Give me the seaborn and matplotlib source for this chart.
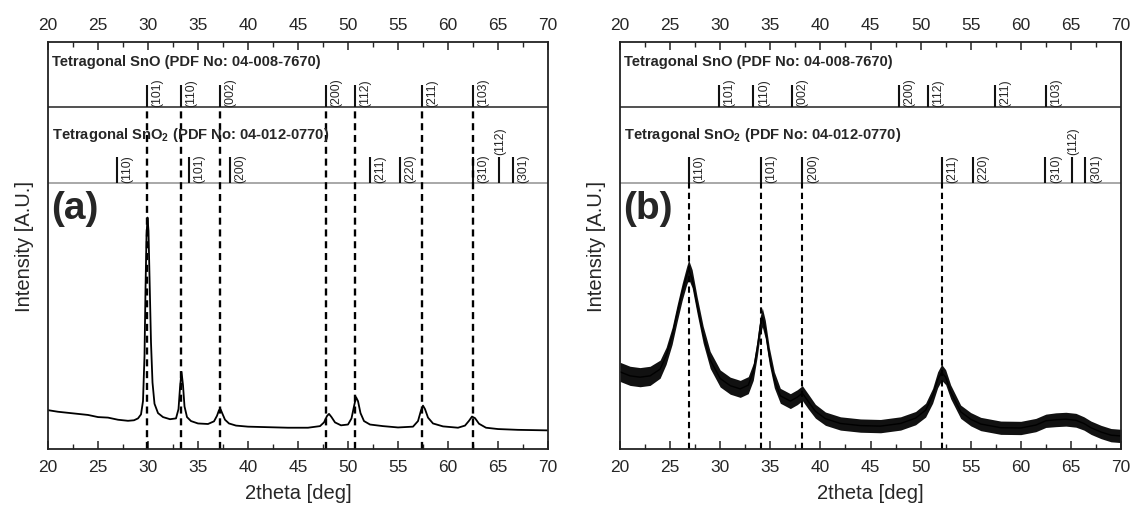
import numpy as np
import pandas as pd
import matplotlib
matplotlib.use("Agg")
import matplotlib.pyplot as plt
import seaborn as sns

# ---------------- data ----------------
# reference patterns (2theta positions and labels)
sno_pos = [29.9, 33.3, 37.15, 47.8, 50.7, 57.4, 62.5]
sno_hkl = ["(101)", "(110)", "(002)", "(200)", "(112)", "(211)", "(103)"]
sno2_pos = [26.85, 34.05, 38.2, 52.15, 55.2, 62.45, 65.1, 66.45]
sno2_hkl = ["(110)", "(101)", "(200)", "(211)", "(220)", "(310)", "(112)", "(301)"]

# panel (a) measured pattern
a_x = [20, 21, 22, 23, 24, 25, 26, 27, 28, 28.6, 29.0, 29.3, 29.5, 29.65, 29.75, 29.85,
       29.95, 30.05, 30.15, 30.3, 30.45, 30.65, 31.0, 31.5, 32.2, 32.8, 33.05, 33.2,
       33.35, 33.5, 33.65, 33.9, 34.3, 35.0, 36.0, 36.6, 36.9, 37.1, 37.25, 37.45,
       37.7, 38.1, 38.8, 40, 42, 44, 46, 47.2, 47.6, 47.9, 48.1, 48.35, 48.7, 49.3,
       50.0, 50.35, 50.6, 50.8, 51.0, 51.25, 51.6, 52.2, 53.5, 55, 56.5, 57.0, 57.3,
       57.5, 57.7, 58.0, 58.5, 59.5, 61, 61.7, 62.1, 62.4, 62.7, 63.1, 63.8, 65, 67,
       70]
a_y = [14.6, 14.0, 13.6, 13.2, 12.8, 12.0, 11.8, 11.0, 10.6, 10.8, 11.5, 13.0, 18.0,
       35.0, 60.0, 80.0, 87.0, 82.0, 65.0, 40.0, 25.0, 17.0, 13.5, 12.0, 11.2, 11.5,
       15.0, 23.0, 29.0, 24.0, 16.0, 12.0, 10.5, 9.6, 9.4, 10.4, 12.5, 14.6, 15.0,
       13.2, 11.0, 9.6, 8.8, 8.4, 8.2, 8.0, 8.0, 8.6, 10.0, 12.4, 13.2, 12.0, 10.0,
       8.9, 9.2, 11.5, 16.0, 19.5, 18.0, 13.5, 10.5, 9.2, 8.6, 8.1, 8.4, 10.5, 14.5,
       16.3, 15.0, 11.8, 9.6, 8.5, 8.0, 8.8, 10.6, 12.2, 11.6, 9.5, 8.0, 7.5, 7.2,
       7.0]

# panel (b) measured pattern (centre of the noisy trace and its half-width)
b_x = [20, 21, 22, 23, 24, 24.6, 25.2, 25.7, 26.2, 26.6, 26.85, 27.2, 27.7, 28.3,
       29, 30, 31, 32, 32.8, 33.3, 33.7, 34.0, 34.2, 34.5, 34.9, 35.4, 36, 37, 37.7,
       38.2, 38.8, 39.5, 40.5, 42, 44, 46, 48, 49.5, 50.5, 51.2, 51.7, 52.1, 52.5,
       53, 54, 55, 56, 58, 60, 61.5, 62.5, 63.5, 64.5, 65.5, 66.3, 67, 68, 69, 70]
b_y = [29.0, 27.5, 27.0, 27.5, 30.0, 35.0, 42.5, 51.0, 59.0, 64.5, 67.5, 64.0, 54.0,
       43.0, 33.5, 26.5, 23.8, 22.6, 24.0, 29.0, 38.0, 46.5, 49.5, 45.0, 35.0, 26.0,
       20.0, 18.0, 19.5, 21.0, 17.8, 14.2, 11.4, 9.6, 8.8, 8.6, 9.6, 11.6, 14.6,
       20.0, 26.0, 28.8, 27.0, 21.5, 14.0, 11.2, 9.4, 8.0, 7.9, 9.0, 10.6, 11.0,
       11.2, 10.8, 9.6, 8.0, 6.4, 5.2, 4.9]
b_hw = [3.6, 3.6, 3.6, 3.6, 3.4, 3.2, 3.2, 3.2, 3.2, 3.4, 3.6, 3.4, 3.2, 3.2,
        3.2, 3.2, 3.2, 3.2, 3.2, 3.2, 3.2, 3.4, 3.6, 3.4, 3.2, 3.0, 2.8, 2.8, 2.8,
        2.8, 2.8, 2.6, 2.5, 2.5, 2.5, 2.5, 2.5, 2.5, 2.6, 2.8, 3.0, 3.0, 2.8,
        2.6, 2.5, 2.5, 2.5, 2.5, 2.5, 2.5, 2.5, 2.6, 2.6, 2.6, 2.5, 2.5, 2.5, 2.5, 2.5]

x_ticks = [20, 25, 30, 35, 40, 45, 50, 55, 60, 65, 70]

# ---------------- style ----------------
sns.set_style("ticks")
plt.rcParams["font.family"] = ["Liberation Sans", "DejaVu Sans"]
plt.rcParams["mathtext.fontset"] = "custom"
plt.rcParams["mathtext.rm"] = "Liberation Sans"
plt.rcParams["mathtext.bf"] = "Liberation Sans:bold"

fig = plt.figure(figsize=(11.38, 5.10), dpi=100)

H = 510.0
W = 1138.0
# vertical layout in data units: main 0..100, SnO2 strip 100..128.6, SnO strip 128.6..153
Y_TOP = 153.0
Y_SNO = 128.6
Y_SNO2 = 100.0
STICK_SNO = 8.3
STICK_SNO2 = 9.8

def make_axes(left_px, right_px):
    bottom_px = 450.0
    top_px = 43.0
    ax = fig.add_axes([left_px / W, 1 - bottom_px / H,
                       (right_px - left_px) / W, (bottom_px - top_px) / H])
    ax.set_xlim(20, 70)
    ax.set_ylim(0, Y_TOP)
    ax.set_xticks(x_ticks)
    ax.set_xticks(np.arange(22.5, 70, 5), minor=True)
    ax.set_yticks([])
    ax.tick_params(axis="x", which="major", direction="in", length=6, width=1.1,
                   top=True, labeltop=True, labelsize=12.5, pad=7, color="#222222")
    ax.tick_params(axis="x", which="minor", direction="in", length=3.5, width=1.0,
                   top=True, color="#222222")
    for s in ax.spines.values():
        s.set_linewidth(1.3)
        s.set_color("#222222")
    # strip separators
    ax.axhline(Y_SNO, color="#333333", lw=1.2)
    ax.axhline(Y_SNO2, color="#999999", lw=1.2)
    # strip titles
    ax.text(20.4, 145.9, "Tetragonal SnO (PDF No: 04-008-7670)", fontsize=10.6,
            fontweight="bold", va="center", ha="left")
    ax.text(20.4, 118.4, r"Tetragonal SnO$_\mathbf{2}$ (PDF No: 04-012-0770)",
            fontsize=10.6, fontweight="bold", va="center", ha="left")
    # sticks
    ax.vlines(sno_pos, Y_SNO, Y_SNO + STICK_SNO, color="#111111", lw=1.5)
    for p, lab in zip(sno_pos, sno_hkl):
        ax.text(p + 0.45, Y_SNO + 0.4, lab, rotation=90, fontsize=8.8,
                ha="left", va="bottom")
    ax.vlines(sno2_pos, Y_SNO2, Y_SNO2 + STICK_SNO2, color="#111111", lw=1.5)
    for p, lab in zip(sno2_pos, sno2_hkl):
        if lab == "(112)":
            ax.text(p + 0.1, Y_SNO2 + STICK_SNO2 + 1.0, lab, rotation=90, fontsize=8.8,
                    ha="center", va="bottom")
        else:
            ax.text(p + 0.45, Y_SNO2 + 0.4, lab, rotation=90, fontsize=8.8,
                    ha="left", va="bottom")
    return ax

def finish(ax, tag, ylabel_px):
    ax.set_xlabel("2theta [deg]", fontsize=14.5, labelpad=7)
    ax.set_ylabel("")
    fig.text(ylabel_px / W, 1 - 246 / H, "Intensity [A.U.]", rotation=90,
             fontsize=14.5, ha="center", va="center")
    ax.text(20.35, 97.3, tag, fontsize=28, fontweight="bold", ha="left", va="top")

# ---------------- panel (a) ----------------
ax_a = make_axes(48, 548)
ax_a.vlines(sno_pos, 0, Y_SNO, colors="black", linestyles=(0, (3, 2)), lw=1.7)
df_a = pd.DataFrame({"two_theta": a_x, "intensity": a_y})
sns.lineplot(data=df_a, x="two_theta", y="intensity", ax=ax_a, color="black",
             lw=1.3, sort=False)
finish(ax_a, "(a)", 25)

# ---------------- panel (b) ----------------
ax_b = make_axes(620, 1121)
ax_b.vlines(sno2_pos[:4], 0, Y_SNO2, colors="black", linestyles=(0, (3, 2)), lw=1.5)
b_lo = [c - h for c, h in zip(b_y, b_hw)]
b_hi = [c + h for c, h in zip(b_y, b_hw)]
ax_b.fill_between(b_x, b_lo, b_hi, color="#111111", lw=0)
df_b = pd.DataFrame({"two_theta": b_x, "intensity": b_y})
sns.lineplot(data=df_b, x="two_theta", y="intensity", ax=ax_b, color="black",
             lw=1.0, sort=False)
finish(ax_b, "(b)", 597)

fig.savefig("out.png", dpi=100)
